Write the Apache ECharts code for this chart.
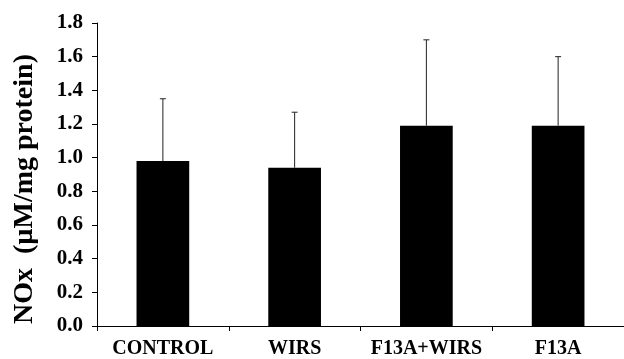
<!DOCTYPE html>
<html>
<head>
<meta charset="utf-8">
<script src="https://cdn.jsdelivr.net/npm/echarts@6/dist/echarts.min.js"></script>
<style>html,body{margin:0;padding:0;background:#fff;}#c{width:624px;height:359px;}</style>
</head>
<body>
<div id="c"></div>
<script>
const categories = ['CONTROL', 'WIRS', 'F13A+WIRS', 'F13A'];
const means = [0.98, 0.94, 1.19, 1.19];
const errors = [0.37, 0.33, 0.51, 0.41];
const yTicks = { min: 0, max: 1.8, interval: 0.2 };
const yName = 'NOx  (\u00b5M/mg protein)';

const font = '"Liberation Serif", "Times New Roman", serif';
const chart = echarts.init(document.getElementById('c'), null, { renderer: 'canvas' });
chart.setOption({
  animation: false,
  backgroundColor: '#fff',
  grid: { left: 97, right: -4, top: 23, bottom: 33, containLabel: false },
  xAxis: {
    type: 'category',
    data: categories,
    boundaryGap: true,
    axisLine: { lineStyle: { color: '#000', width: 1 } },
    axisTick: { show: true, interval: 0, alignWithLabel: false, length: 5, lineStyle: { color: '#000' } },
    axisLabel: { interval: 0, hideOverlap: false, color: '#000', fontFamily: font, fontWeight: 'bold', fontSize: 20, margin: 13 },
    splitLine: { show: false }
  },
  yAxis: {
    type: 'value',
    min: yTicks.min, max: yTicks.max, interval: yTicks.interval,
    axisLine: { show: true, lineStyle: { color: '#000', width: 1 } },
    axisTick: { show: true, length: 5, lineStyle: { color: '#000' } },
    axisLabel: { color: '#000', fontFamily: font, fontWeight: 'bold', fontSize: 21, margin: 14,
      formatter: v => v.toFixed(1) },
    splitLine: { show: false }
  },
  graphic: [{
    type: 'text',
    x: 25, y: 189,
    rotation: Math.PI / 2,
    style: { text: yName, fill: '#000', font: 'bold 28px ' + font, textAlign: 'center', textVerticalAlign: 'middle' }
  }],
  series: [
    {
      type: 'bar',
      data: means,
      barWidth: '40%',
      itemStyle: { color: '#000' },
      z: 2
    },
    {
      type: 'custom',
      z: 3,
      data: means.map((m, i) => [i, m, m + errors[i]]),
      renderItem: function (params, api) {
        const x = api.coord([api.value(0), api.value(1)])[0];
        const y0 = api.coord([api.value(0), api.value(1)])[1];
        const y1 = api.coord([api.value(0), api.value(2)])[1];
        const half = 3;
        const style = { stroke: '#222', lineWidth: 1 };
        return {
          type: 'group',
          children: [
            { type: 'line', shape: { x1: x, y1: y0, x2: x, y2: y1 }, style },
            { type: 'line', shape: { x1: x - half, y1: y1, x2: x + half, y2: y1 }, style }
          ]
        };
      }
    }
  ]
});
</script>
</body>
</html>
